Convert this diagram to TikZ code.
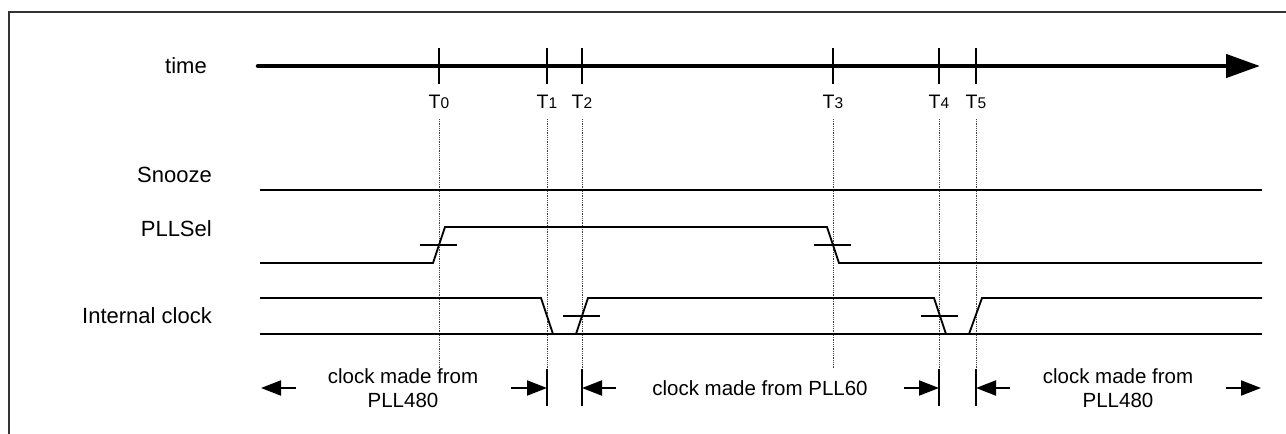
\documentclass[tikz,border=0pt]{standalone}
\usepackage{fontspec}
\setmainfont{Liberation Sans}
\usetikzlibrary{arrows.meta}

\tikzset{
  sig/.style={line width=1.8pt, line join=miter},
  guide/.style={densely dotted, line width=0.8pt, black!75},
  cross/.style={line width=1.8pt},
  span/.style={line width=2pt, -{Triangle[length=20pt,width=15pt]}},
  bar/.style={line width=2.2pt},
  signame/.style={anchor=base east, inner sep=0pt, font=\fontsize{22}{26}\selectfont},
  tlabel/.style={anchor=base, inner sep=0pt, font=\fontsize{19.5}{22}\selectfont},
  note/.style={align=center, font=\fontsize{20.5}{24}\selectfont},
}
\newcommand{\tname}[1]{T{\fontsize{15.5}{15.5}\selectfont #1}}

\begin{document}
\begin{tikzpicture}[x=1pt,y=-1pt]
  \useasboundingbox (0,0) rectangle (1286,434);
  % frame (open to the right and bottom)
  \draw[line width=2pt, black!80] (9,434) -- (9,12) -- (1286,12);

  % time axis
  \coordinate (ax0) at (258,66);
  \coordinate (ax1) at (1260,66);
  \draw[line width=4.5pt, line cap=round, -{Triangle[length=34pt,width=23pt]}] (ax0) -- (ax1);
  \node[signame] (time) at (207,73) {time};

  % ticks, labels and guides
  \foreach \i/\x in {0/439,1/547,2/582,3/833,4/939,5/976}{
    \coordinate (t\i) at (\x,66);
    \coordinate (g\i) at (\x,368);
    \draw[line width=2pt] (\x,48) -- (\x,84);
    \node[tlabel] (T\i) at (\x,108) {\tname{\i}};
    \draw[guide] (\x,119) -- (g\i);
  }

  % Snooze
  \node[signame] (snz) at (212,182) {Snooze};
  \draw[sig] (260,190) -- (1262,190);

  % PLLSel
  \node[signame] (pll) at (212,236) {PLLSel};
  \draw[sig] (260,263) -- (433,263) -- (445,227) -- (827,227) -- (839,263) -- (1262,263);
  \draw[cross] (420,245) -- (457,245);
  \draw[cross] (814,245) -- (851,245);

  % Internal clock
  \node[signame] (clk) at (212,323) {Internal clock};
  \draw[sig] (260,334) -- (1262,334);
  \draw[sig] (260,298) -- (541,298) -- (553,334);
  \draw[sig] (576,334) -- (588,298) -- (934,298) -- (946,334);
  \draw[sig] (969,334) -- (982,298) -- (1262,298);
  \draw[cross] (563,316) -- (600,316);
  \draw[cross] (921,316) -- (958,316);

  % clock source spans
  \node[note] (src0) at (403,388) {clock made from\\PLL480};
  \node[note] (src1) at (760,388) {clock made from PLL60};
  \node[note] (src2) at (1118,388) {clock made from\\PLL480};

  \foreach \i/\x in {1/547,2/582,4/939,5/976}{
    \coordinate (b\i) at (\x,388);
    \draw[bar] (\x,369) -- (\x,406);
  }
  \coordinate (l0) at (296,388);
  \coordinate (l1) at (261,388);
  \coordinate (r0) at (1226,388);
  \coordinate (r1) at (1261,388);
  \coordinate (a1) at (511,388);
  \coordinate (a2) at (616,388);
  \coordinate (a4) at (904,388);
  \coordinate (a5) at (1010,388);
  \draw[span] (l0) -- (l1);
  \draw[span] (a1) -- (b1);
  \draw[span] (a2) -- (b2);
  \draw[span] (a4) -- (b4);
  \draw[span] (a5) -- (b5);
  \draw[span] (r0) -- (r1);
\end{tikzpicture}
\end{document}
